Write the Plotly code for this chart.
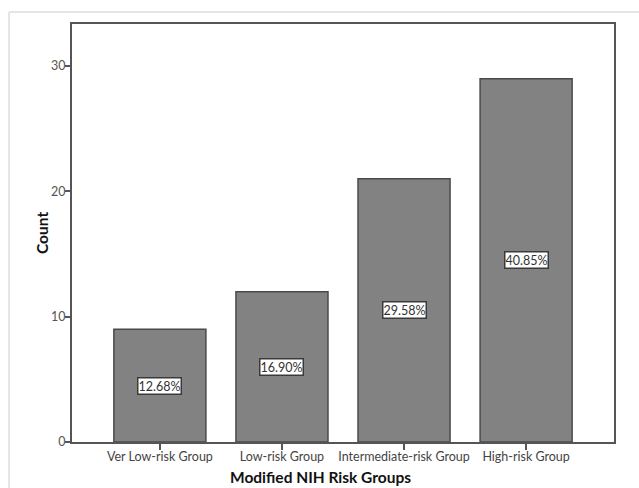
import plotly.graph_objects as go

categories = ["Ver Low-risk Group", "Low-risk Group", "Intermediate-risk Group", "High-risk Group"]
counts = [9, 12, 21, 29]
pct_labels = ["12.68%", "16.90%", "29.58%", "40.85%"]
y_ticks = [0, 10, 20, 30]

FONT = "Lato"

fig = go.Figure()
fig.add_trace(go.Bar(
    x=categories, y=counts, width=0.754,
    marker=dict(color="#828282", line=dict(color="#4a4a4a", width=1.5)),
    hoverinfo="skip",
))

for c, v, t in zip(categories, counts, pct_labels):
    fig.add_annotation(
        x=c, y=v / 2, text=t, showarrow=False,
        font=dict(family=FONT, size=12.5, color="#333333"),
        bgcolor="white", bordercolor="#3a3a3a", borderwidth=1.5, borderpad=0,
    )

# axis titles
fig.add_annotation(text="<b>Modified NIH Risk Groups</b>", xref="paper", yref="paper",
                   x=0.4576, y=-0.0837, showarrow=False, xanchor="center", yanchor="middle",
                   font=dict(family=FONT, size=15.5, color="#111111"))
fig.add_annotation(text="<b>Count</b>", xref="paper", yref="paper", textangle=-90,
                   x=-0.0554, y=0.5, showarrow=False, xanchor="center", yanchor="middle",
                   font=dict(family=FONT, size=15.5, color="#111111"))

# outer light frame
fig.add_shape(type="line", xref="paper", yref="paper", x0=-0.1162, x1=1.2, y0=1.0287, y1=1.0287,
              line=dict(color="#dddddd", width=1.5))
fig.add_shape(type="line", xref="paper", yref="paper", x0=-0.1162, x1=-0.1162, y0=-0.2, y1=1.0287,
              line=dict(color="#dddddd", width=1.5))

fig.update_layout(
    width=639, height=488,
    margin=dict(l=72, r=25, t=24, b=46),
    paper_bgcolor="white", plot_bgcolor="white",
    showlegend=False,
    font=dict(family=FONT, color="#444444"),
    xaxis=dict(
        range=[-0.72, 3.72], showgrid=False, zeroline=False, automargin=False,
        showline=True, linecolor="#555555", linewidth=2, mirror=True,
        ticks="outside", ticklen=6, tickcolor="#555555", tickwidth=1.5,
        tickfont=dict(family=FONT, size=12.5, color="#444444"),
    ),
    yaxis=dict(
        range=[0, 33.36], tickvals=y_ticks, showgrid=False, zeroline=False, automargin=False,
        showline=True, linecolor="#555555", linewidth=2, mirror=True,
        ticks="outside", ticklen=5, tickcolor="#555555", tickwidth=1.5,
        tickfont=dict(family=FONT, size=12.5, color="#555555"),
    ),
)
try:
    fig.update_xaxes(ticklabelstandoff=-4)
    fig.update_yaxes(ticklabelstandoff=-3)
except Exception:
    pass

fig.write_html("out.html", config={"displayModeBar": False},
               post_script="document.body.style.margin='0';document.body.style.overflow='hidden';")
